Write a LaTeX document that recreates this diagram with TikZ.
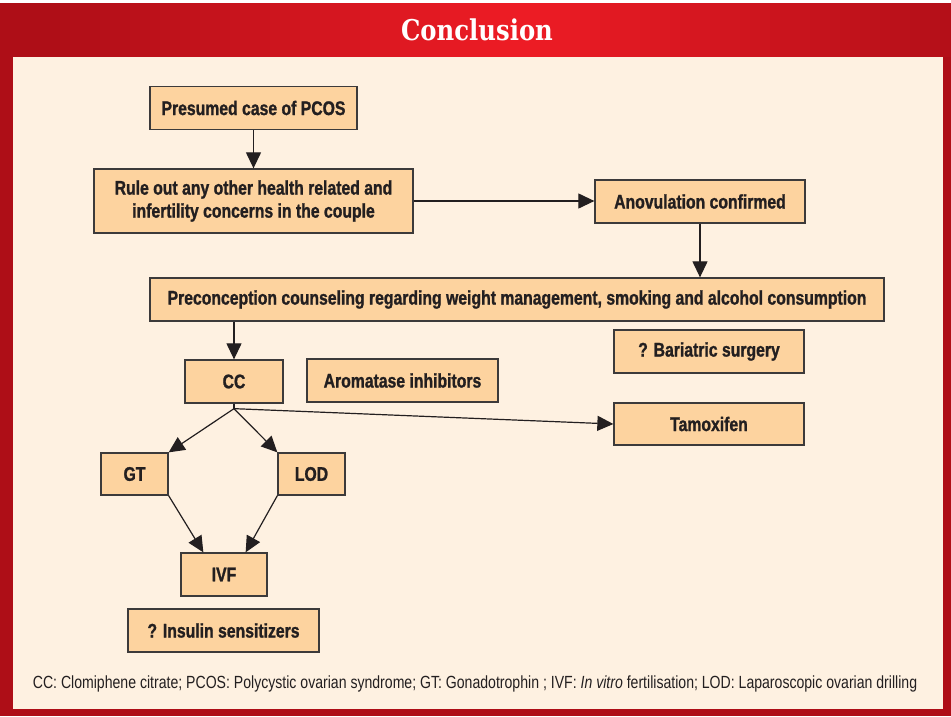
\documentclass[tikz,border=0pt]{standalone}
\usepackage{fontspec}
\setmainfont{Liberation Sans}[FakeStretch=0.8, BoldFeatures={FakeBold=1.2}]
\newfontfamily\titlefont{DejaVu Serif}[FakeStretch=0.85]
\usepackage{xcolor}
\usepackage{tikz}
\usetikzlibrary{positioning, arrows.meta}

\definecolor{hdark}{HTML}{AE0E17}
\definecolor{hbright}{HTML}{EE1C25}
\definecolor{cream}{HTML}{FEF1E1}
\definecolor{boxfill}{HTML}{FDD39F}
\definecolor{boxline}{HTML}{3C3A3A}
\definecolor{ink}{HTML}{231F20}

\tikzset{
  flowbox/.style={draw=boxline, fill=boxfill, line width=1.3pt, minimum height=43pt,
    inner sep=4pt, text=ink, font=\fontsize{19.7}{23}\selectfont\bfseries},
  flowarrow/.style={-{Triangle[width=15pt,length=16pt]}, ink, line width=1.2pt}
}

\begin{document}
\begin{tikzpicture}[x=1pt,y=1pt]
       \useasboundingbox (0,0) rectangle (951,-716);

       % Rahmen und Kopfzeile
       \fill[white] (0,0) rectangle (951,-716);
       \fill[hdark] (0,-3) rectangle (951,-716);
       \foreach \i in {0,...,95} {
           \pgfmathtruncatemacro\pct{min(100,abs(\i*10+5-520)/4.7)}
           \fill[hdark!\pct!hbright] (\i*10,-3) rectangle (\i*10+10.6,-57);
       }
       \fill[cream] (13,-57) rectangle (943,-709);
       \node[text=white, font=\titlefont\fontsize{28.6}{32}\selectfont\bfseries] (title) at (477,-30) {Conclusion};

       % Hauptpfad
       \node[flowbox, minimum width=207pt] (pcos) at (253.5,-108) {Presumed case of PCOS};
       \node[flowbox, minimum width=319pt, minimum height=64pt, align=center] (ruleout) at (253.5,-201)
            {Rule out any other health related and\\infertility concerns in the couple};
       \node[flowbox, minimum width=210pt] (anov) at (700,-201.5) {Anovulation confirmed};
       \node[flowbox, minimum width=734pt] (precon) at (517,-299.5)
            {Preconception counseling regarding weight management, smoking and alcohol consumption};
       \node[flowbox, minimum width=190pt] (bari) at (709,-351.5) {? Bariatric surgery};

       % Behandlung
       \node[flowbox, minimum width=98pt] (cc) at (234,-381.5) {CC};
       \node[flowbox, minimum width=191pt] (arom) at (402.5,-380.5) {Aromatase inhibitors};
       \node[flowbox, minimum width=190pt, minimum height=42pt] (tamox) at (709,-424) {Tamoxifen};
       \node[flowbox, minimum width=67pt, minimum height=42pt] (gt) at (134.5,-474) {GT};
       \node[flowbox, minimum width=67pt, minimum height=42pt] (lod) at (311.5,-474) {LOD};
       \node[flowbox, minimum width=86pt] (ivf) at (224,-574.5) {IVF};
       \node[flowbox, minimum width=191pt] (insulin) at (223.5,-630.5) {? Insulin sensitizers};
       \coordinate (split) at ([yshift=-5pt]cc.south);

       % Fussnote
       \node[text=ink, font=\fontsize{17.6}{20}\selectfont] (note) at (475,-684)
            {CC: Clomiphene citrate; PCOS: Polycystic ovarian syndrome; GT: Gonadotrophin ; IVF: \textit{In vitro} fertilisation; LOD: Laparoscopic ovarian drilling};

       \path[flowarrow]
       (pcos) edge (ruleout)
       (ruleout.east) edge (ruleout.east -| anov.west)
       (anov) edge (anov.south |- precon.north)
       (cc.north |- precon.south) edge (cc)
       (cc.south) edge[-] (split)
       (split) edge (gt.north east)
               edge (lod.north west)
               edge (tamox.west)
       (gt.south east) edge ([xshift=23pt]ivf.north west)
       (lod.south west) edge ([xshift=-22pt]ivf.north east);
    \end{tikzpicture}
\end{document}
